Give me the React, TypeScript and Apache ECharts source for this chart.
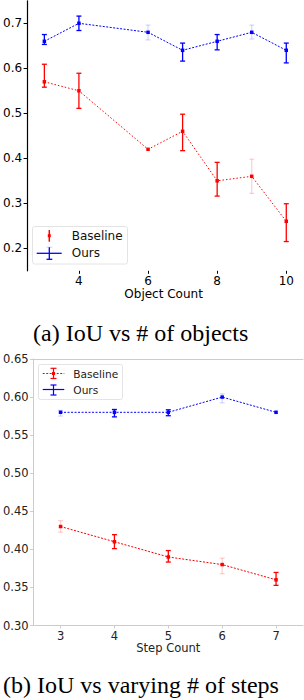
import React, { useEffect, useRef } from "react";
import * as echarts from "echarts";

// ---- (a) IoU vs # of objects ----
const objCounts = [3, 4, 6, 7, 8, 9, 10];
const oursObj = [0.66, 0.70, 0.68, 0.64, 0.66, 0.68, 0.64];
const oursObjLow = [0.653, 0.684, 0.663, 0.616, 0.641, 0.665, 0.612];
const oursObjHigh = [0.675, 0.716, 0.696, 0.656, 0.675, 0.696, 0.656];
const baseObj = [0.57, 0.55, 0.42, 0.46, 0.35, 0.36, 0.26];
const baseObjLow = [0.558, 0.511, 0.42, 0.417, 0.316, 0.322, 0.215];
const baseObjHigh = [0.609, 0.589, 0.42, 0.498, 0.391, 0.398, 0.299];
const objXTicks = [4, 6, 8, 10];
const objYTicks = [0.2, 0.3, 0.4, 0.5, 0.6, 0.7];

// ---- (b) IoU vs varying # of steps ----
const stepCounts = [3, 4, 5, 6, 7];
const oursStep = [0.58, 0.58, 0.58, 0.60, 0.58];
const oursStepLow = [0.575, 0.574, 0.5755, 0.5925, 0.58];
const oursStepHigh = [0.5825, 0.5837, 0.5833, 0.6042, 0.58];
const baseStep = [0.43, 0.41, 0.39, 0.38, 0.36];
const baseStepLow = [0.4225, 0.401, 0.3833, 0.368, 0.3527];
const baseStepHigh = [0.4377, 0.4193, 0.3984, 0.3885, 0.3697];
const stepXTicks = [3, 4, 5, 6, 7];
const stepYTicks = [0.30, 0.35, 0.40, 0.45, 0.50, 0.55, 0.60, 0.65];

// faint rendering of some error bars in the reference (style only)
const oursObjFaint = [0, 0, 1, 0, 0, 1, 0];
const baseObjFaint = [0, 0, 0, 0, 0, 1, 0];
const oursStepFaint = [1, 0, 0, 1, 0];
const baseStepFaint = [1, 0, 0, 1, 0];

const BLUE = "#0000ff";
const RED = "#ff0000";
const FAINT_BLUE = "rgba(0,0,255,0.15)";
const FAINT_RED = "rgba(255,0,0,0.18)";
const FONT = "DejaVu Sans";

function errSeries(
  xs: number[], lows: number[], highs: number[], faint: number[],
  color: string, faintColor: string, axisIndex: number, capW: number
) {
  return {
    type: "custom",
    xAxisIndex: axisIndex,
    yAxisIndex: axisIndex,
    silent: true,
    z: 3,
    encode: { x: 0, y: [1, 2] },
    data: xs.map((x, i) => [x, lows[i], highs[i], faint[i]]),
    renderItem: (_params: any, api: any) => {
      const x = api.value(0);
      const lo = api.value(1);
      const hi = api.value(2);
      const f = api.value(3);
      if (hi - lo < 1e-9) return { type: "group", children: [] };
      const p1 = api.coord([x, hi]);
      const p2 = api.coord([x, lo]);
      const style = { stroke: f ? faintColor : color, lineWidth: 1.3, fill: null };
      return {
        type: "group",
        children: [
          { type: "line", shape: { x1: p1[0], y1: p1[1], x2: p2[0], y2: p2[1] }, style },
          { type: "line", shape: { x1: p1[0] - capW, y1: p1[1], x2: p1[0] + capW, y2: p1[1] }, style },
          { type: "line", shape: { x1: p2[0] - capW, y1: p2[1], x2: p2[0] + capW, y2: p2[1] }, style },
        ],
      };
    },
  };
}

function lineSeries(xs: number[], ys: number[], color: string, axisIndex: number, dash: number[]) {
  return {
    type: "line",
    xAxisIndex: axisIndex,
    yAxisIndex: axisIndex,
    data: xs.map((x, i) => [x, ys[i]]),
    symbol: "rect",
    symbolSize: 3.5,
    itemStyle: { color },
    lineStyle: { color, width: 1, type: dash },
    z: 4,
  };
}

export default function App() {
  const ref = useRef<HTMLDivElement>(null);
  useEffect(() => {
    if (!ref.current) return;
    const chart = echarts.init(ref.current, null, { renderer: "svg" });

    const legendTop = [
      { type: "rect", shape: { x: 32.5, y: 226.5, width: 95, height: 37.5, r: 2 }, style: { fill: "rgba(255,255,255,0.8)", stroke: "#dddddd", lineWidth: 0.8 } },
      { type: "line", shape: { x1: 49.3, y1: 230, x2: 49.3, y2: 241.7 }, style: { stroke: RED, lineWidth: 1.5 } },
      { type: "rect", shape: { x: 47.8, y: 234.2, width: 3, height: 3 }, style: { fill: RED } },
      { type: "line", shape: { x1: 36.7, y1: 253.3, x2: 61.7, y2: 253.3 }, style: { stroke: BLUE, lineWidth: 1.3 } },
      { type: "line", shape: { x1: 49.3, y1: 247.3, x2: 49.3, y2: 259.3 }, style: { stroke: BLUE, lineWidth: 1.3 } },
      { type: "line", shape: { x1: 46.5, y1: 247.3, x2: 52.3, y2: 247.3 }, style: { stroke: FAINT_BLUE, lineWidth: 1.3 } },
      { type: "line", shape: { x1: 46.5, y1: 259.3, x2: 52.3, y2: 259.3 }, style: { stroke: BLUE, lineWidth: 1.3 } },
      { type: "text", x: 71.7, y: 235.7, style: { text: "Baseline", font: `12px "${FONT}"`, fill: "#111", textVerticalAlign: "middle" } },
      { type: "text", x: 71.7, y: 253.3, style: { text: "Ours", font: `12px "${FONT}"`, fill: "#111", textVerticalAlign: "middle" } },
    ];

    const legendBottom = [
      { type: "rect", shape: { x: 38.5, y: 364.5, width: 84, height: 35, r: 2 }, style: { fill: "rgba(255,255,255,0.8)", stroke: "#dddddd", lineWidth: 0.8 } },
      { type: "line", shape: { x1: 42.7, y1: 373.5, x2: 64.3, y2: 373.5 }, style: { stroke: RED, lineWidth: 1, lineDash: [2, 1.5] } },
      { type: "line", shape: { x1: 53.5, y1: 368.3, x2: 53.5, y2: 378.5 }, style: { stroke: RED, lineWidth: 1.2 } },
      { type: "line", shape: { x1: 50.5, y1: 368.3, x2: 56.5, y2: 368.3 }, style: { stroke: RED, lineWidth: 1.2 } },
      { type: "line", shape: { x1: 50.5, y1: 378.5, x2: 56.5, y2: 378.5 }, style: { stroke: RED, lineWidth: 1.2 } },
      { type: "rect", shape: { x: 52, y: 372, width: 3, height: 3 }, style: { fill: RED } },
      { type: "line", shape: { x1: 42.7, y1: 389.5, x2: 64.3, y2: 389.5 }, style: { stroke: BLUE, lineWidth: 1.2 } },
      { type: "line", shape: { x1: 53.5, y1: 385, x2: 53.5, y2: 395 }, style: { stroke: BLUE, lineWidth: 1.2 } },
      { type: "line", shape: { x1: 50.5, y1: 385, x2: 56.5, y2: 385 }, style: { stroke: BLUE, lineWidth: 1.2 } },
      { type: "line", shape: { x1: 50.5, y1: 395, x2: 56.5, y2: 395 }, style: { stroke: BLUE, lineWidth: 1.2 } },
      { type: "text", x: 73.3, y: 374, style: { text: "Baseline", font: `10.6px "${FONT}"`, fill: "#222", textVerticalAlign: "middle" } },
      { type: "text", x: 73.3, y: 389.5, style: { text: "Ours", font: `10.6px "${FONT}"`, fill: "#222", textVerticalAlign: "middle" } },
    ];

    const captions = [
      { type: "text", x: 33, y: 333, style: { text: "(a) IoU vs # of objects", font: `24px "Liberation Serif"`, fill: "#000", textVerticalAlign: "middle" } },
      { type: "text", x: 3, y: 685, style: { text: "(b) IoU vs varying # of steps", font: `24px "Liberation Serif"`, fill: "#000", textVerticalAlign: "middle" } },
    ];

    const gray = "#cccccc";

    chart.setOption({
      animation: false,
      backgroundColor: "#ffffff",
      grid: [
        { left: 26.5, top: 0.8, width: 273.6, height: 270, containLabel: false },
        { left: 33, top: 359, width: 270, height: 266.5, containLabel: false },
      ],
      xAxis: [
        {
          type: "value", gridIndex: 0, min: 2.5, max: 10.4,
          axisLine: { show: false },
          axisTick: { show: true, length: 3, customValues: objXTicks, lineStyle: { color: "#000", width: 1 } },
          axisLabel: { customValues: objXTicks, margin: 4, color: "#000", fontFamily: FONT, fontSize: 12 },
          splitLine: { show: false },
          name: "Object Count", nameLocation: "middle", nameGap: 17,
          nameTextStyle: { color: "#000", fontFamily: FONT, fontSize: 12 },
        },
        {
          type: "value", gridIndex: 1, min: 2.5, max: 7.5,
          axisLine: { show: true, lineStyle: { color: gray, width: 1 } },
          axisTick: { show: true, length: 3, customValues: stepXTicks, lineStyle: { color: gray } },
          axisLabel: { customValues: stepXTicks, margin: 4, color: "#222", fontFamily: FONT, fontSize: 11.5 },
          splitLine: { show: false },
          name: "Step Count", nameLocation: "middle", nameGap: 16,
          nameTextStyle: { color: "#222", fontFamily: FONT, fontSize: 11.5 },
        },
        {
          type: "value", gridIndex: 1, min: 2.5, max: 7.5, position: "top",
          axisLine: { show: true, lineStyle: { color: gray, width: 1 } },
          axisTick: { show: false }, axisLabel: { show: false }, splitLine: { show: false },
        },
      ],
      yAxis: [
        {
          type: "value", gridIndex: 0, min: 0.15, max: 0.75,
          axisLine: { show: true, lineStyle: { color: "#000", width: 1.2 } },
          axisTick: { show: true, length: 3.5, customValues: objYTicks, lineStyle: { color: "#000" } },
          axisLabel: { customValues: objYTicks, margin: 5, color: "#000", fontFamily: FONT, fontSize: 12, formatter: (v: number) => v.toFixed(1) },
          splitLine: { show: false },
        },
        {
          type: "value", gridIndex: 1, min: 0.3, max: 0.65,
          axisLine: { show: true, lineStyle: { color: gray, width: 1 } },
          axisTick: { show: true, length: 3.5, customValues: stepYTicks, lineStyle: { color: gray } },
          axisLabel: { customValues: stepYTicks, margin: 5, color: "#222", fontFamily: FONT, fontSize: 11.5, formatter: (v: number) => v.toFixed(2) },
          splitLine: { show: false },
        },
      ],
      series: [
        errSeries(objCounts, oursObjLow, oursObjHigh, oursObjFaint, BLUE, FAINT_BLUE, 0, 2.5),
        errSeries(objCounts, baseObjLow, baseObjHigh, baseObjFaint, RED, FAINT_RED, 0, 2.5),
        lineSeries(objCounts, oursObj, BLUE, 0, [2, 1.5]),
        lineSeries(objCounts, baseObj, RED, 0, [1.5, 2]),
        errSeries(stepCounts, oursStepLow, oursStepHigh, oursStepFaint, BLUE, FAINT_BLUE, 1, 2.5),
        errSeries(stepCounts, baseStepLow, baseStepHigh, baseStepFaint, RED, FAINT_RED, 1, 2.5),
        lineSeries(stepCounts, oursStep, BLUE, 1, [2, 1.5]),
        lineSeries(stepCounts, baseStep, RED, 1, [2, 1.5]),
      ],
      graphic: [...legendTop, ...legendBottom, ...captions],
    });
    return () => chart.dispose();
  }, []);

  return <div ref={ref} style={{ position: "absolute", left: 0, top: 0, width: 304, height: 700 }} />;
}
